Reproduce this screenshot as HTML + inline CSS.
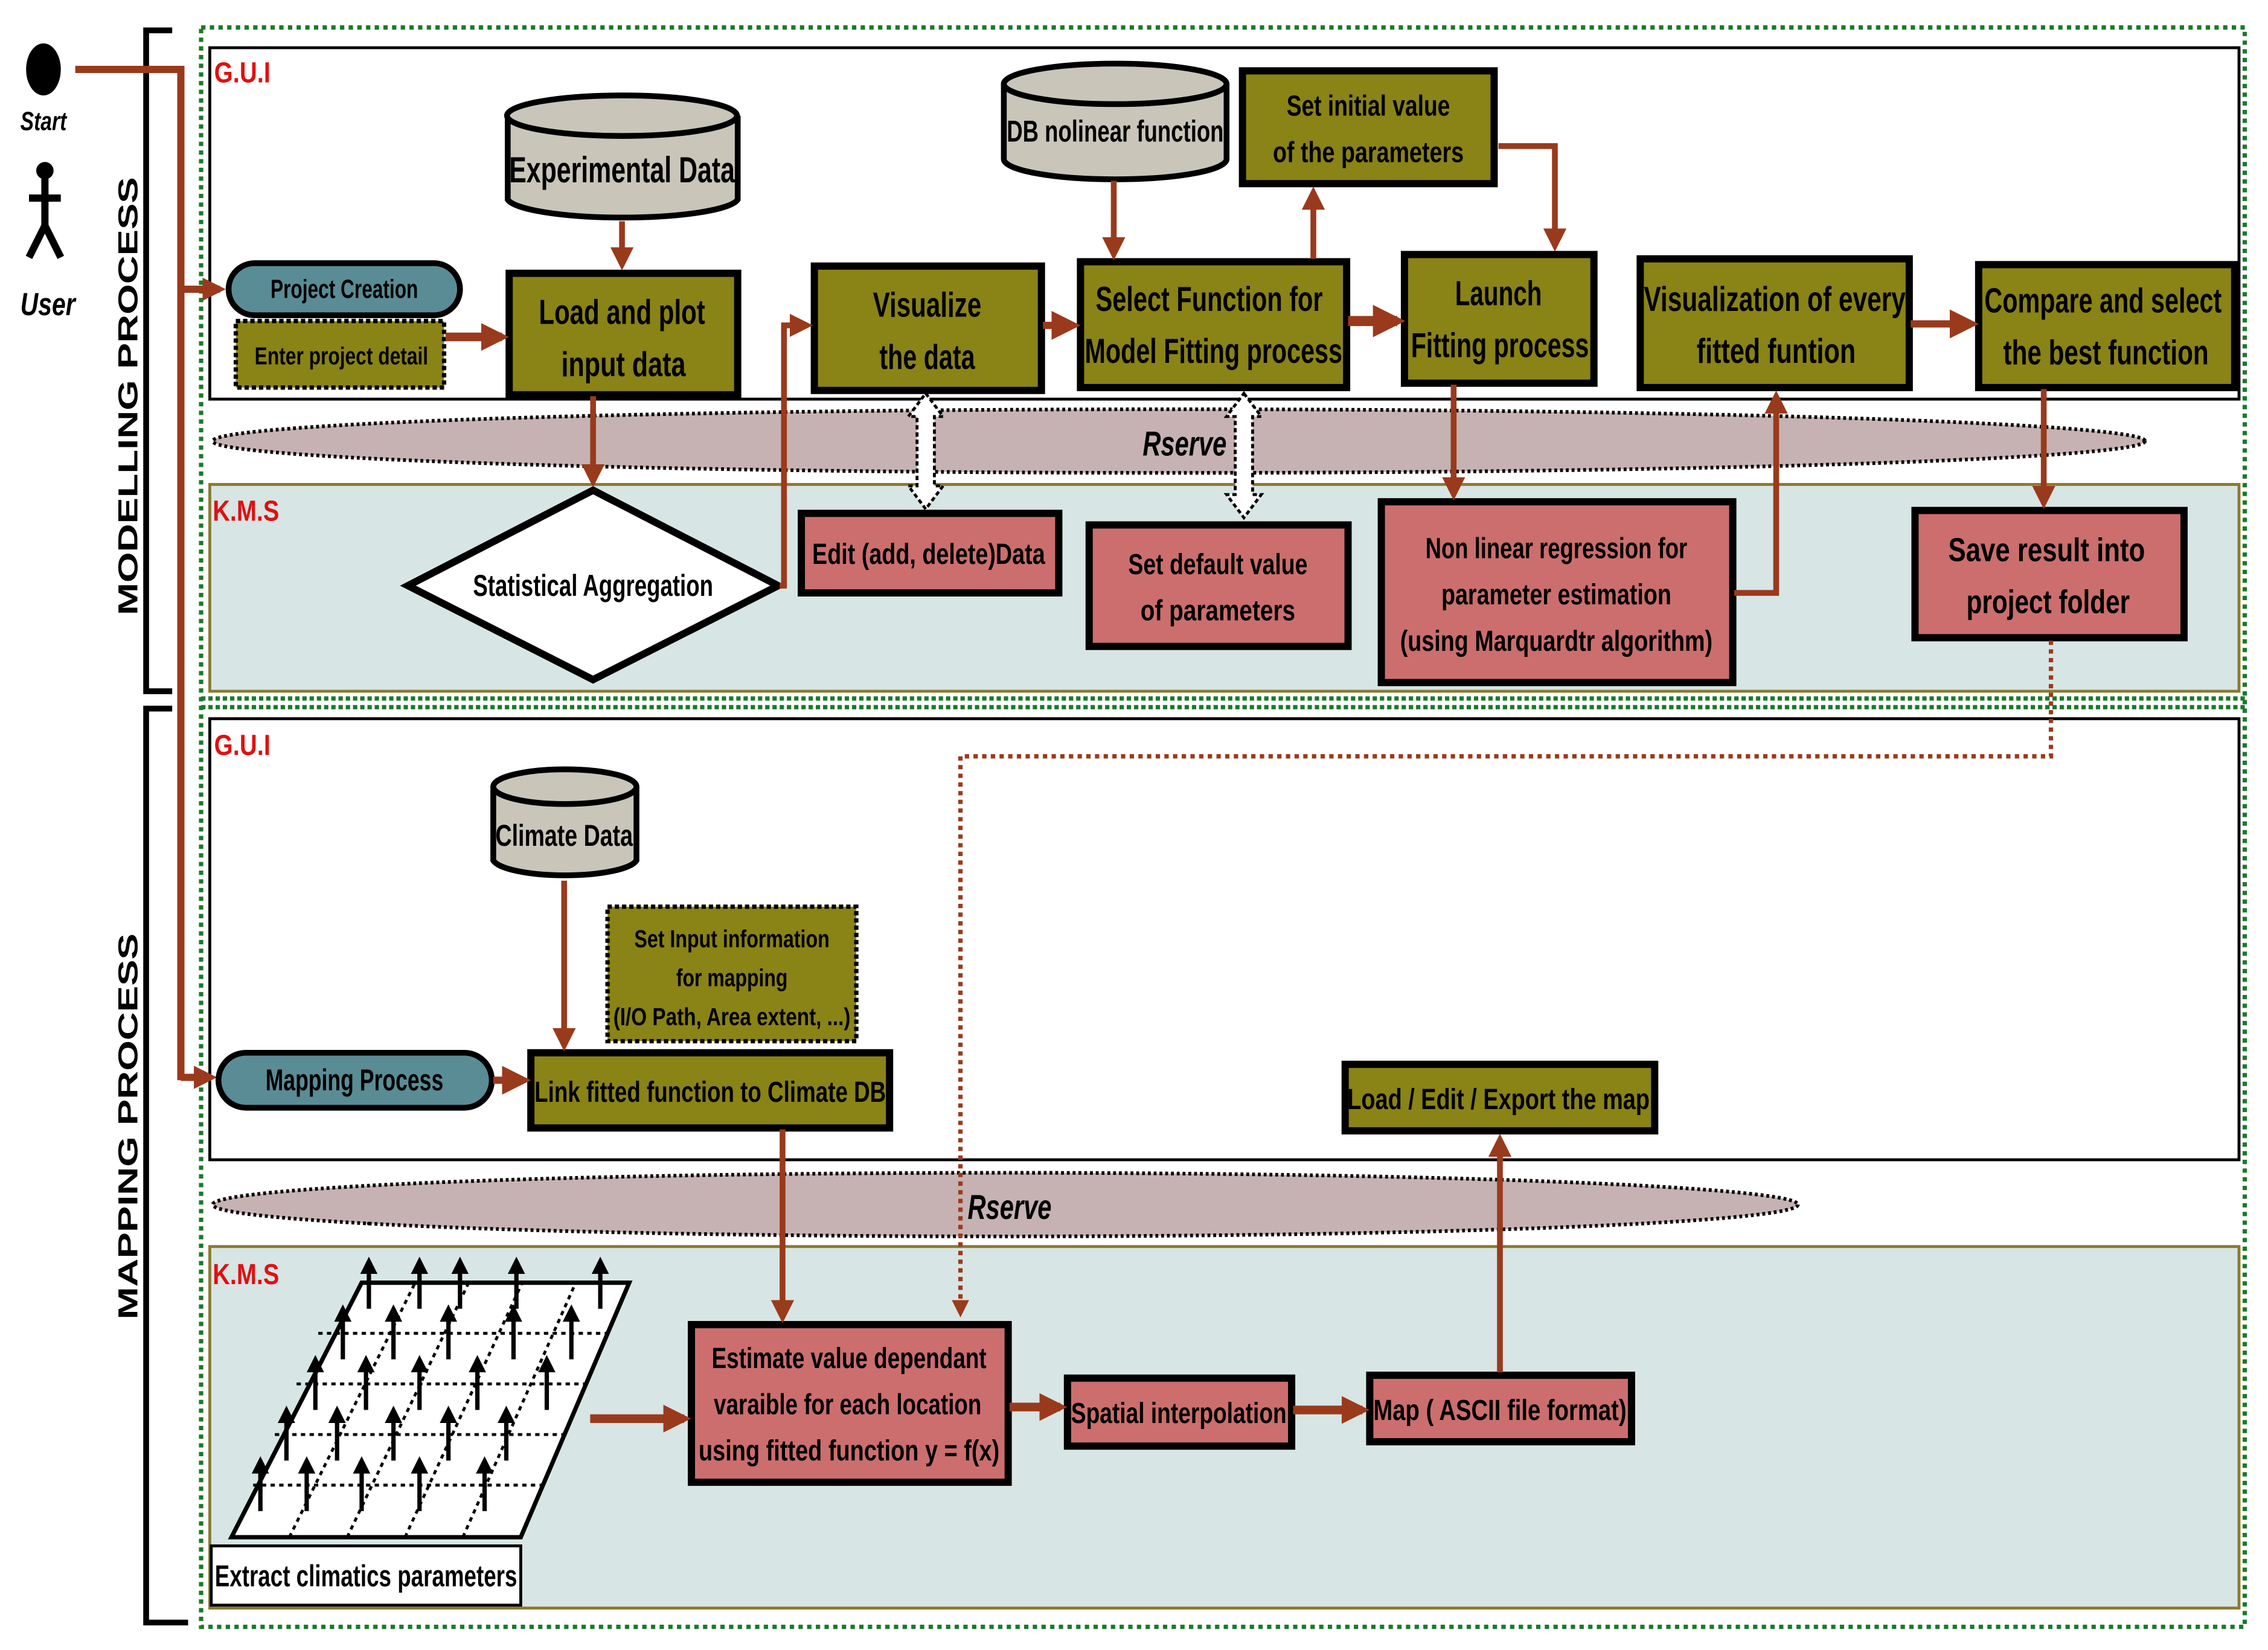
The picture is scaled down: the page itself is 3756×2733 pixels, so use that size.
<!DOCTYPE html>
<html><head><meta charset="utf-8">
<style>
html,body{margin:0;padding:0;background:#fff;}
svg{display:block;}
text{font-family:"Liberation Sans",sans-serif;font-weight:bold;}
</style></head>
<body>
<svg width="3756" height="2733" viewBox="0 0 1568 1141" xmlns="http://www.w3.org/2000/svg">
<defs>
<marker id="ah" markerWidth="4" markerHeight="4" refX="3" refY="2" orient="auto" markerUnits="strokeWidth">
<path d="M0,0 L4,2 L0,4 z" fill="#9a3a1c"/></marker>
<marker id="ah2" markerWidth="3.2" markerHeight="3.2" refX="2.4" refY="1.6" orient="auto" markerUnits="strokeWidth">
<path d="M0,0 L3.2,1.6 L0,3.2 z" fill="#9a3a1c"/></marker>
<marker id="ahb" markerWidth="4" markerHeight="4" refX="3" refY="2" orient="auto" markerUnits="strokeWidth">
<path d="M0,0 L4,2 L0,4 z" fill="#000"/></marker>
</defs>
<rect width="1568" height="1141" fill="#fff"/>

<rect x="139" y="19" width="1413" height="1106" fill="none" stroke="#1a7a2a" stroke-width="3" stroke-dasharray="3,3"/>

<path d="M119,21 H101 V478 H119" fill="none" stroke="#000" stroke-width="4"/>
<path d="M119,490 H101 V1122 H130" fill="none" stroke="#000" stroke-width="4"/>
<text transform="translate(95,274) rotate(-90)" text-anchor="middle" font-size="19" textLength="303" lengthAdjust="spacingAndGlyphs">MODELLING PROCESS</text>
<text transform="translate(95,779) rotate(-90)" text-anchor="middle" font-size="19" textLength="267" lengthAdjust="spacingAndGlyphs">MAPPING PROCESS</text>

<rect x="145" y="33" width="1403" height="243" fill="#fff" stroke="#000" stroke-width="2"/>
<text x="148" y="57" font-size="20" fill="#e01010" textLength="39" lengthAdjust="spacingAndGlyphs">G.U.I</text>
<rect x="145" y="335" width="1403" height="143" fill="#d7e5e5" stroke="#8a7a30" stroke-width="2"/>
<text x="147" y="360" font-size="20" fill="#e01010" textLength="46" lengthAdjust="spacingAndGlyphs">K.M.S</text>
<line x1="139" y1="483" x2="1552" y2="483" stroke="#1a7a2a" stroke-width="3" stroke-dasharray="3,2"/>
<line x1="139" y1="489" x2="1552" y2="489" stroke="#1a7a2a" stroke-width="3" stroke-dasharray="3,2"/>
<rect x="145" y="497" width="1403" height="305" fill="#fff" stroke="#000" stroke-width="2"/>
<text x="148" y="522" font-size="20" fill="#e01010" textLength="39" lengthAdjust="spacingAndGlyphs">G.U.I</text>
<rect x="145" y="862" width="1403" height="250" fill="#d7e5e5" stroke="#8a7a30" stroke-width="2"/>
<text x="147" y="888" font-size="20" fill="#e01010" textLength="46" lengthAdjust="spacingAndGlyphs">K.M.S</text>

<ellipse cx="815" cy="305" rx="668" ry="22" fill="#c6b2b2" stroke="#000" stroke-width="2.5" stroke-dasharray="2,2"/>
<text x="819" y="315" text-anchor="middle" font-size="24" font-style="italic" textLength="58" lengthAdjust="spacingAndGlyphs">Rserve</text>
<ellipse cx="695" cy="833" rx="548" ry="22" fill="#c6b2b2" stroke="#000" stroke-width="2.5" stroke-dasharray="2,2"/>
<text x="698" y="843" text-anchor="middle" font-size="24" font-style="italic" textLength="58" lengthAdjust="spacingAndGlyphs">Rserve</text>

<ellipse cx="30" cy="48" rx="12" ry="18" fill="#000"/>
<text x="30" y="90" text-anchor="middle" font-size="18" font-style="italic" textLength="32" lengthAdjust="spacingAndGlyphs">Start</text>
<circle cx="31" cy="118" r="6" fill="#000"/>
<path d="M31,122 V158 M20,137 H42 M31,156 L20,178 M31,156 L42,178" stroke="#000" stroke-width="5" fill="none"/>
<text x="33" y="218" text-anchor="middle" font-size="22" font-style="italic" textLength="38" lengthAdjust="spacingAndGlyphs">User</text>

<path d="M52,48 H125 V747" fill="none" stroke="#9a3a1c" stroke-width="5"/>
<line x1="125" y1="200" x2="152" y2="200" stroke="#9a3a1c" stroke-width="5" marker-end="url(#ah2)"/>
<line x1="125" y1="745" x2="146" y2="745" stroke="#9a3a1c" stroke-width="5" marker-end="url(#ah2)"/>

<g stroke="#000" stroke-width="4" fill="#c9c5b9">
<path d="M351,80 V138 A80,14 0 0 0 510,138 V80"/>
<ellipse cx="430" cy="80" rx="79.5" ry="14"/>
<path d="M694,58 V110 A77,14 0 0 0 848,110 V58"/>
<ellipse cx="771" cy="58" rx="77" ry="14"/>
<path d="M341,544 V595 A50,12 0 0 0 440,595 V544"/>
<ellipse cx="390.5" cy="544" rx="49.5" ry="12"/>
</g>
<text x="430" y="126" text-anchor="middle" font-size="25" textLength="156" lengthAdjust="spacingAndGlyphs">Experimental Data</text>
<text x="771" y="98" text-anchor="middle" font-size="21" textLength="150" lengthAdjust="spacingAndGlyphs">DB nolinear function</text>
<text x="390" y="585" text-anchor="middle" font-size="21" textLength="95" lengthAdjust="spacingAndGlyphs">Climate Data</text>

<g fill="#8a8316" stroke="#000" stroke-width="5">
<rect x="352" y="189" width="158" height="84"/>
<rect x="563" y="184" width="157" height="86"/>
<rect x="747" y="181" width="184" height="87"/>
<rect x="859" y="49" width="174" height="78"/>
<rect x="971" y="176" width="131" height="89"/>
<rect x="1134" y="179" width="186" height="89"/>
<rect x="1368" y="183" width="177" height="85"/>
<rect x="367" y="728" width="248" height="52"/>
<rect x="930" y="736" width="214" height="46"/>
</g>
<rect x="163" y="222" width="144" height="46" fill="#8a8316" stroke="#000" stroke-width="3" stroke-dasharray="3,2"/>
<rect x="420" y="627" width="172" height="93" fill="#8a8316" stroke="#000" stroke-width="3" stroke-dasharray="3,2"/>

<rect x="158" y="182" width="160" height="36" rx="18" fill="#5a8c96" stroke="#000" stroke-width="4"/>
<text x="238" y="206" text-anchor="middle" font-size="18" textLength="102" lengthAdjust="spacingAndGlyphs">Project Creation</text>
<rect x="151" y="728" width="189" height="38" rx="19" fill="#5a8c96" stroke="#000" stroke-width="4"/>
<text x="245" y="754" text-anchor="middle" font-size="21" textLength="123" lengthAdjust="spacingAndGlyphs">Mapping Process</text>

<g fill="#cc6e6e" stroke="#000" stroke-width="5">
<rect x="554" y="355" width="178" height="55"/>
<rect x="753" y="363" width="179" height="84"/>
<rect x="955" y="347" width="243" height="125"/>
<rect x="1324" y="353" width="186" height="88"/>
<rect x="478" y="916" width="219" height="109"/>
<rect x="738" y="953" width="155" height="47"/>
<rect x="947" y="951" width="181" height="46"/>
</g>

<polygon points="410,339 538,405 410,470 282,405" fill="#fff" stroke="#000" stroke-width="5"/>
<text x="410" y="412" text-anchor="middle" font-size="21" textLength="166" lengthAdjust="spacingAndGlyphs">Statistical Aggregation</text>

<g font-size="24" text-anchor="middle" lengthAdjust="spacingAndGlyphs">
<text x="430" y="224" textLength="115" lengthAdjust="spacingAndGlyphs">Load and plot</text><text x="431" y="260" textLength="86" lengthAdjust="spacingAndGlyphs">input data</text>
<text x="641" y="219" textLength="75" lengthAdjust="spacingAndGlyphs">Visualize</text><text x="641" y="255" textLength="66" lengthAdjust="spacingAndGlyphs">the data</text>
<text x="836" y="215" textLength="157" lengthAdjust="spacingAndGlyphs">Select Function for</text><text x="839" y="251" textLength="178" lengthAdjust="spacingAndGlyphs">Model Fitting process</text>
<text x="1036" y="211" textLength="60" lengthAdjust="spacingAndGlyphs">Launch</text><text x="1037" y="247" textLength="123" lengthAdjust="spacingAndGlyphs">Fitting process</text>
<text x="1227" y="215" textLength="181" lengthAdjust="spacingAndGlyphs">Visualization of every</text><text x="1228" y="251" textLength="110" lengthAdjust="spacingAndGlyphs">fitted funtion</text>
<text x="1454" y="216" textLength="164" lengthAdjust="spacingAndGlyphs">Compare and select</text><text x="1456" y="252" textLength="142" lengthAdjust="spacingAndGlyphs">the best function</text>
<text x="1415" y="388" font-size="23" textLength="136" lengthAdjust="spacingAndGlyphs">Save result  into</text><text x="1416" y="424" font-size="23" textLength="113" lengthAdjust="spacingAndGlyphs">project folder</text>
</g>
<g font-size="20" text-anchor="middle">
<text x="946" y="80" textLength="113" lengthAdjust="spacingAndGlyphs">Set initial value</text><text x="946" y="112" textLength="132" lengthAdjust="spacingAndGlyphs">of the parameters</text>
<text x="236" y="252" font-size="17" textLength="120" lengthAdjust="spacingAndGlyphs">Enter project detail</text>
<text x="642" y="390" textLength="161" lengthAdjust="spacingAndGlyphs">Edit (add, delete)Data</text>
<text x="842" y="397" textLength="124" lengthAdjust="spacingAndGlyphs">Set default value</text><text x="842" y="429" textLength="107" lengthAdjust="spacingAndGlyphs">of  parameters</text>
<text x="1076" y="386" textLength="181" lengthAdjust="spacingAndGlyphs">Non linear regression for</text>
<text x="1076" y="418" textLength="159" lengthAdjust="spacingAndGlyphs">parameter estimation</text>
<text x="1076" y="450" textLength="216" lengthAdjust="spacingAndGlyphs">(using Marquardtr algorithm)</text>
<text x="506" y="655" font-size="17" textLength="135" lengthAdjust="spacingAndGlyphs">Set Input information</text>
<text x="506" y="682" font-size="17" textLength="77" lengthAdjust="spacingAndGlyphs">for mapping</text>
<text x="506" y="709" font-size="17" textLength="164" lengthAdjust="spacingAndGlyphs">(I/O Path, Area extent, ...)</text>
<text x="491" y="762" textLength="243" lengthAdjust="spacingAndGlyphs">Link fitted function to Climate DB</text>
<text x="1036" y="767" textLength="209" lengthAdjust="spacingAndGlyphs">Load / Edit / Export the map</text>
<text x="587" y="946" textLength="190" lengthAdjust="spacingAndGlyphs">Estimate value dependant</text>
<text x="586" y="978" textLength="185" lengthAdjust="spacingAndGlyphs">varaible for each location</text>
<text x="587" y="1010" textLength="208" lengthAdjust="spacingAndGlyphs">using fitted function y = f(x)</text>
<text x="815" y="984" textLength="149" lengthAdjust="spacingAndGlyphs">Spatial interpolation</text>
<text x="1037" y="982" textLength="175" lengthAdjust="spacingAndGlyphs">Map ( ASCII file format)</text>
</g>

<g stroke="#9a3a1c" stroke-width="4" fill="none">
<line x1="430" y1="153" x2="430" y2="183" marker-end="url(#ah)"/>
<line x1="308" y1="233" x2="347" y2="233" stroke-width="6" marker-end="url(#ah2)"/>
<line x1="410" y1="274" x2="410" y2="333" marker-end="url(#ah)"/>
<path d="M539,405 H542 V225 H558" marker-end="url(#ah)"/>
<line x1="721" y1="225" x2="742" y2="225" stroke-width="5" marker-end="url(#ah)"/>
<line x1="770" y1="125" x2="770" y2="176" marker-end="url(#ah)"/>
<line x1="908" y1="179" x2="908" y2="133" marker-end="url(#ah)"/>
<path d="M1036,101 H1075 V170" marker-end="url(#ah)"/>
<line x1="932" y1="222" x2="966" y2="222" stroke-width="7" marker-end="url(#ah2)"/>
<line x1="1005" y1="266" x2="1005" y2="342" marker-end="url(#ah)"/>
<path d="M1199,410 H1228 V274" marker-end="url(#ah)"/>
<line x1="1321" y1="224" x2="1363" y2="224" stroke-width="5" marker-end="url(#ah)"/>
<line x1="1413" y1="269" x2="1413" y2="348" marker-end="url(#ah)"/>
<line x1="390" y1="609" x2="390" y2="723" marker-end="url(#ah)"/>
<line x1="341" y1="747" x2="362" y2="747" stroke-width="5" marker-end="url(#ah)"/>
<line x1="541" y1="781" x2="541" y2="911" marker-end="url(#ah)"/>
<line x1="408" y1="981" x2="473" y2="981" stroke-width="6" marker-end="url(#ah2)"/>
<line x1="698" y1="973" x2="733" y2="973" stroke-width="6" marker-end="url(#ah2)"/>
<line x1="894" y1="975" x2="942" y2="975" stroke-width="6" marker-end="url(#ah2)"/>
<line x1="1037" y1="949" x2="1037" y2="788" marker-end="url(#ah)"/>
<path d="M1418,443 V523 H664 V908" stroke-width="3" stroke-dasharray="3,3" marker-end="url(#ah)"/>
</g>

<g fill="#fff" stroke="#000" stroke-width="2" stroke-dasharray="3,2">
<path d="M640,272 L652,288 H646 V336 H652 L640,352 L628,336 H634 V288 H628 Z"/>
<path d="M860,272 L872,288 H866 V342 H872 L860,358 L848,342 H854 V288 H848 Z"/>
</g>

<polygon points="160,1063 360,1063 435,887 250,887" fill="#fff" stroke="#000" stroke-width="3"/>
<g stroke="#000" stroke-width="2" stroke-dasharray="3,3">
<line x1="175" y1="1027" x2="375" y2="1027"/>
<line x1="190" y1="992" x2="390" y2="992"/>
<line x1="205" y1="957" x2="405" y2="957"/>
<line x1="220" y1="922" x2="420" y2="922"/>
<line x1="200" y1="1063" x2="287" y2="887"/>
<line x1="240" y1="1063" x2="324" y2="887"/>
<line x1="280" y1="1063" x2="361" y2="887"/>
<line x1="320" y1="1063" x2="398" y2="887"/>
</g>
<g stroke="#000" stroke-width="3" fill="none" marker-end="url(#ahb)">
<line x1="180" y1="1045" x2="180" y2="1010"/><line x1="212" y1="1045" x2="212" y2="1010"/><line x1="250" y1="1045" x2="250" y2="1010"/><line x1="290" y1="1045" x2="290" y2="1010"/><line x1="335" y1="1045" x2="335" y2="1010"/>
<line x1="198" y1="1010" x2="198" y2="975"/><line x1="233" y1="1010" x2="233" y2="975"/><line x1="272" y1="1010" x2="272" y2="975"/><line x1="310" y1="1010" x2="310" y2="975"/><line x1="350" y1="1010" x2="350" y2="975"/>
<line x1="218" y1="975" x2="218" y2="940"/><line x1="253" y1="975" x2="253" y2="940"/><line x1="290" y1="975" x2="290" y2="940"/><line x1="330" y1="975" x2="330" y2="940"/><line x1="378" y1="975" x2="378" y2="940"/>
<line x1="237" y1="940" x2="237" y2="905"/><line x1="272" y1="940" x2="272" y2="905"/><line x1="310" y1="940" x2="310" y2="905"/><line x1="355" y1="940" x2="355" y2="905"/><line x1="395" y1="940" x2="395" y2="905"/>
<line x1="255" y1="905" x2="255" y2="872"/><line x1="290" y1="905" x2="290" y2="872"/><line x1="318" y1="905" x2="318" y2="872"/><line x1="357" y1="905" x2="357" y2="872"/><line x1="415" y1="905" x2="415" y2="872"/>
</g>
<rect x="146" y="1069" width="214" height="41" fill="#fff" stroke="#000" stroke-width="2"/>
<text x="253" y="1097" text-anchor="middle" font-size="21" textLength="209" lengthAdjust="spacingAndGlyphs">Extract climatics parameters</text>
</svg>
</body></html>
